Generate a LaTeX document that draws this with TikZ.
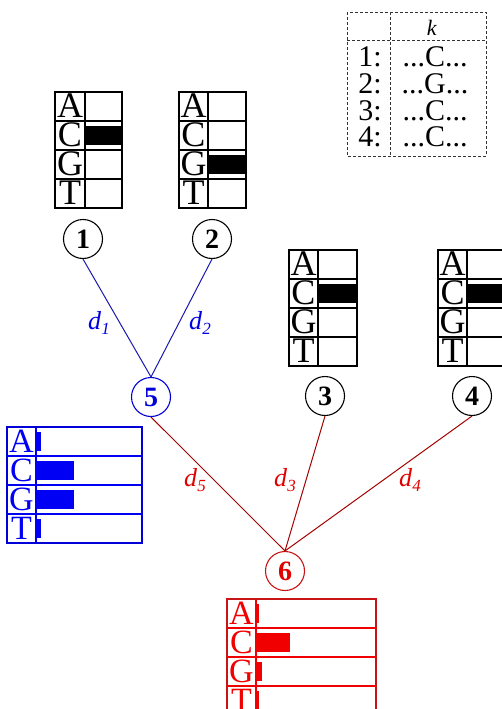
\documentclass[tikz,border=0pt]{standalone}
\usepackage{fontspec}
\setmainfont{Liberation Serif}

\definecolor{nodeblue}{RGB}{0,0,215}
\definecolor{edgeblue}{RGB}{25,25,175}
\definecolor{labblue}{RGB}{0,0,225}
\definecolor{barblue}{RGB}{0,0,245}
\definecolor{nodered}{RGB}{200,20,20}
\definecolor{edgered}{RGB}{165,0,0}
\definecolor{labred}{RGB}{225,0,0}
\definecolor{barred}{RGB}{240,0,0}

% one profile table: name, top-left corner, letter column width,
% total width, colour, letter size, bar lengths for A,C,G,T
\newcommand\seqtable[7]{%
  \begin{scope}[shift={#2}]
    \foreach \bw [count=\i from 0] in {#7}
      \fill[#5] (#3,\i*29+4.5) rectangle ++(\bw,19.5);
    \foreach \i in {1,2,3}
      \draw[#5,tabline] (0,\i*29) -- (#4,\i*29);
    \draw[#5,tabline] (0,0) rectangle (#4,116);
    \draw[#5,tabline] (#3,0) -- (#3,116);
    \foreach \L [count=\i from 0] in {A,C,G,T}
      \node[anchor=base,inner sep=0,text=#5,
            font=\fontsize{#6}{#6}\selectfont] (#1\L) at (#3/2,\i*29+25.5) {\L};
  \end{scope}}

\newcommand\dlab[1]{\textit{d}\raisebox{-5.5pt}{\fontsize{17}{17}\selectfont\textit{#1}}}

\tikzset{
  tabline/.style={line width=1.1pt},
  treenode/.style={circle,draw,line width=1.1pt,minimum size=39pt,inner sep=0pt,
                   font=\fontsize{28}{28}\selectfont\bfseries},
  blueedge/.style={draw=edgeblue,line width=1pt},
  rededge/.style={draw=edgered,line width=1pt},
  edgelab/.style={font=\fontsize{26}{26}\selectfont,inner sep=0pt},
  legline/.style={draw=black!80,line width=0.8pt,dash pattern=on 3pt off 2pt},
  legtext/.style={anchor=base,inner sep=0pt,font=\fontsize{30}{30}\selectfont},
}

\begin{document}
\begin{tikzpicture}[x=1pt,y=-1pt]
  \useasboundingbox (0,0) rectangle (502,709);
  \clip (0,0) rectangle (502,709);

  % legend: column k of the four sequences
  \draw[legline] (347,12) rectangle (486,156);
  \draw[legline] (390,12) -- (390,156);
  \draw[legline] (347,40) -- (486,40);
  \node[anchor=base,inner sep=0pt,font=\fontsize{22}{22}\selectfont] (khead) at (432,36) {\textit{k}};
  \foreach \n/\c [count=\i from 0] in {1/C,2/G,3/C,4/C} {
    \node[legtext] (lnum\n) at (370,66.5+\i*26.8) {\n:};
    \node[legtext] (lcol\n) at (435,66.5+\i*26.8) {...\c...};
  }

  % leaf profiles
  \seqtable{ta}{(55,92)}{30}{67}{black}{36}{0,37,0,0}
  \seqtable{tb}{(179,92)}{29}{67}{black}{36}{0,0,38,0}
  \seqtable{tc}{(289,250)}{29}{68}{black}{36}{0,39,0,0}
  \seqtable{td}{(438,250)}{29}{68}{black}{36}{0,39,0,0}

  % inner profiles
  \seqtable{te}{(7,427)}{29}{135}{barblue}{34}{5,38,38,5}
  \seqtable{tf}{(227,599)}{29}{149}{barred}{34}{3,34,5.5,3}
  \draw[nodeblue,tabline] (7,427) rectangle (142,543);
  \draw[nodered,tabline] (227,599) rectangle (376,715);

  % tree nodes
  \node[treenode] (n1) at (83,239) {1};
  \node[treenode] (n2) at (212,239) {2};
  \node[treenode] (n3) at (325,396) {3};
  \node[treenode] (n4) at (472,396) {4};
  \node[treenode,draw=nodeblue,text=nodeblue] (n5) at (151,397) {5};
  \node[treenode,draw=nodered,text=labred] (n6) at (285,571) {6};

  % branches
  \draw[blueedge] (n1.south) -- (n5.north);
  \draw[blueedge] (n2.south) -- (n5.north);
  \draw[rededge] (n5.south) -- (n6.north);
  \draw[rededge] (n3.south) -- (n6.north);
  \draw[rededge] (n4.south) -- (n6.north);

  % branch lengths
  \node[edgelab,text=labblue] (l1) at (99,323) {\dlab{1}};
  \node[edgelab,text=labblue] (l2) at (200,323) {\dlab{2}};
  \node[edgelab,text=labred] (l5) at (195,480) {\dlab{5}};
  \node[edgelab,text=labred] (l3) at (285,480) {\dlab{3}};
  \node[edgelab,text=labred] (l4) at (410,480) {\dlab{4}};
\end{tikzpicture}
\end{document}
